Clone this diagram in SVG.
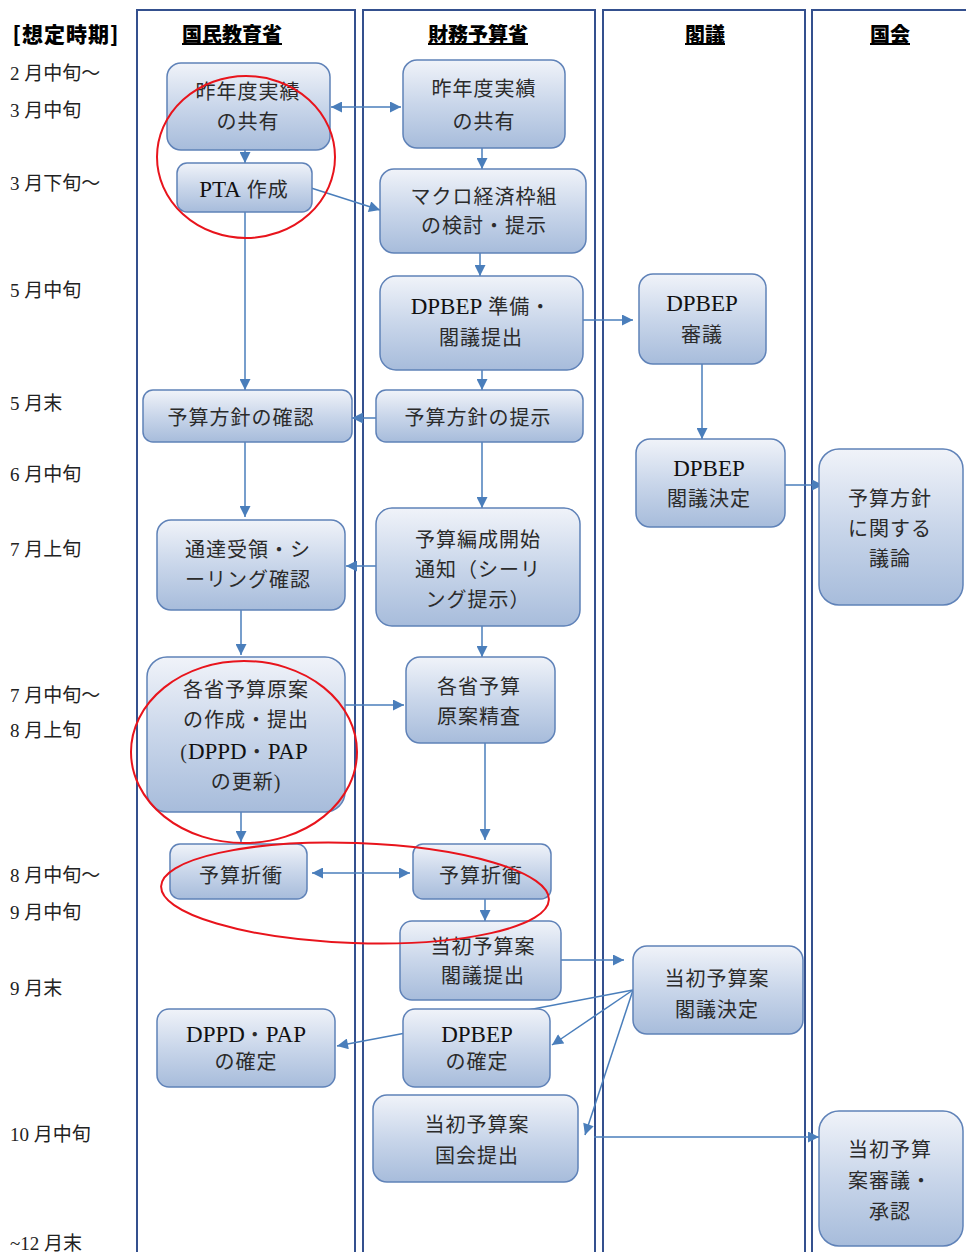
<svg xmlns="http://www.w3.org/2000/svg" width="966" height="1252" viewBox="0 0 966 1252">
<defs>
<linearGradient id="g" x1="0" y1="0" x2="0" y2="1">
<stop offset="0" stop-color="#f0f3f9"/>
<stop offset="0.5" stop-color="#c9d6ea"/>
<stop offset="1" stop-color="#a7bcdb"/>
</linearGradient>
<marker id="ah" viewBox="0 0 10 10" refX="10" refY="5" markerWidth="12" markerHeight="11" markerUnits="userSpaceOnUse" orient="auto-start-reverse">
<path d="M0,0 L10,5 L0,10 Z" fill="#4a7ebb"/>
</marker>
<style>
.lane{fill:none;stroke:#34508e;stroke-width:2}
.node rect{fill:url(#g);stroke:#5f82b8;stroke-width:1.5}
.node text{font-family:"Liberation Serif","Noto Sans CJK JP",serif;font-size:20px;fill:#2b2b2b;text-anchor:middle;letter-spacing:1px}
.node .lat{font-size:23px;fill:#111;letter-spacing:0}
.hd{font-family:"Noto Sans CJK JP",sans-serif;font-size:20px;font-weight:900;fill:#000;text-anchor:middle;text-decoration:underline}
.tm{font-family:"Liberation Serif","Noto Sans CJK JP",serif;font-size:19px;fill:#222}
.c{fill:none;stroke:#4a7ebb;stroke-width:1.5}
.red{fill:none;stroke:#e8141c;stroke-width:2}
</style>
</defs>
<rect width="966" height="1252" fill="#fff"/>
<g id="lanes">
<rect class="lane" x="137" y="10" width="218" height="1260"/>
<rect class="lane" x="363" y="10" width="232" height="1260"/>
<rect class="lane" x="603" y="10" width="202" height="1260"/>
<rect class="lane" x="812" y="10" width="170" height="1260"/>
</g>
<g id="headers">
<text class="hd" x="66" y="42" style="text-decoration:none;font-size:21px;letter-spacing:1px">[想定時期]</text>
<text class="hd" x="232" y="42">国民教育省</text>
<text class="hd" x="478" y="42">財務予算省</text>
<text class="hd" x="705" y="42">閣議</text>
<text class="hd" x="890" y="42">国会</text>
</g>
<g id="times">
<text class="tm" x="10" y="80">2 月中旬～</text>
<text class="tm" x="10" y="117">3 月中旬</text>
<text class="tm" x="10" y="190">3 月下旬～</text>
<text class="tm" x="10" y="297">5 月中旬</text>
<text class="tm" x="10" y="410">5 月末</text>
<text class="tm" x="10" y="481">6 月中旬</text>
<text class="tm" x="10" y="556">7 月上旬</text>
<text class="tm" x="10" y="702">7 月中旬～</text>
<text class="tm" x="10" y="737">8 月上旬</text>
<text class="tm" x="10" y="882">8 月中旬～</text>
<text class="tm" x="10" y="919">9 月中旬</text>
<text class="tm" x="10" y="995">9 月末</text>
<text class="tm" x="10" y="1141">10 月中旬</text>
<text class="tm" x="10" y="1250">~12 月末</text>
</g>
<g id="connectors">
<line class="c" x1="331" y1="107" x2="401" y2="107" marker-start="url(#ah)" marker-end="url(#ah)"/>
<line class="c" x1="245" y1="150" x2="245" y2="163" marker-end="url(#ah)"/>
<line class="c" x1="308" y1="187" x2="380" y2="210" marker-end="url(#ah)"/>
<line class="c" x1="482" y1="148" x2="482" y2="169" marker-end="url(#ah)"/>
<line class="c" x1="245" y1="212" x2="245" y2="390" marker-end="url(#ah)"/>
<line class="c" x1="480" y1="253" x2="480" y2="276" marker-end="url(#ah)"/>
<line class="c" x1="583" y1="320" x2="633" y2="320" marker-end="url(#ah)"/>
<line class="c" x1="482" y1="370" x2="482" y2="390" marker-end="url(#ah)"/>
<line class="c" x1="376" y1="418" x2="352" y2="418" marker-end="url(#ah)"/>
<line class="c" x1="702" y1="364" x2="702" y2="439" marker-end="url(#ah)"/>
<line class="c" x1="785" y1="485" x2="823" y2="485" marker-end="url(#ah)"/>
<line class="c" x1="245" y1="442" x2="245" y2="517" marker-end="url(#ah)"/>
<line class="c" x1="482" y1="442" x2="482" y2="508" marker-end="url(#ah)"/>
<line class="c" x1="376" y1="566" x2="346" y2="566" marker-end="url(#ah)"/>
<line class="c" x1="241" y1="610" x2="241" y2="655" marker-end="url(#ah)"/>
<line class="c" x1="482" y1="626" x2="482" y2="657" marker-end="url(#ah)"/>
<line class="c" x1="345" y1="705" x2="404" y2="705" marker-end="url(#ah)"/>
<line class="c" x1="241" y1="812" x2="241" y2="842" marker-end="url(#ah)"/>
<line class="c" x1="485" y1="743" x2="485" y2="840" marker-end="url(#ah)"/>
<line class="c" x1="312" y1="873" x2="410" y2="873" marker-start="url(#ah)" marker-end="url(#ah)"/>
<line class="c" x1="485" y1="899" x2="485" y2="921" marker-end="url(#ah)"/>
<line class="c" x1="561" y1="960" x2="624" y2="960" marker-end="url(#ah)"/>
<line class="c" x1="633" y1="990" x2="337" y2="1046" marker-end="url(#ah)"/>
<line class="c" x1="633" y1="990" x2="552" y2="1045" marker-end="url(#ah)"/>
<line class="c" x1="633" y1="990" x2="585" y2="1135" marker-end="url(#ah)"/>
<line class="c" x1="594" y1="1137" x2="819" y2="1137" marker-end="url(#ah)"/>
</g>
<g id="n1" class="node"><rect x="167" y="63" width="163" height="87" rx="14"/><text x="248" y="99">昨年度実績</text><text x="248" y="129">の共有</text></g>
<g id="n2" class="node"><rect x="403" y="60" width="162" height="88" rx="14"/><text x="484" y="96">昨年度実績</text><text x="484" y="129">の共有</text></g>
<g id="n3" class="node"><rect x="177" y="163" width="135" height="49" rx="10"/><text x="244" y="197"><tspan class="lat">PTA</tspan> 作成</text></g>
<g id="n4" class="node"><rect x="380" y="169" width="206" height="84" rx="14"/><text x="484" y="204">マクロ経済枠組</text><text x="484" y="233">の検討・提示</text></g>
<g id="n5" class="node"><rect x="380" y="276" width="203" height="94" rx="16"/><text x="481" y="314"><tspan class="lat">DPBEP</tspan> 準備・</text><text x="481" y="345">閣議提出</text></g>
<g id="n6" class="node"><rect x="639" y="274" width="127" height="90" rx="14"/><text x="702" y="311" class="lat">DPBEP</text><text x="702" y="342">審議</text></g>
<g id="n7" class="node"><rect x="143" y="390" width="209" height="52" rx="10"/><text x="241" y="425">予算方針の確認</text></g>
<g id="n8" class="node"><rect x="376" y="390" width="207" height="52" rx="10"/><text x="478" y="425">予算方針の提示</text></g>
<g id="n9" class="node"><rect x="636" y="439" width="149" height="88" rx="14"/><text x="709" y="476" class="lat">DPBEP</text><text x="709" y="506">閣議決定</text></g>
<g id="n10" class="node"><rect x="819" y="449" width="144" height="156" rx="20"/><text x="890" y="506">予算方針</text><text x="890" y="536">に関する</text><text x="890" y="566">議論</text></g>
<g id="n11" class="node"><rect x="157" y="520" width="188" height="90" rx="14"/><text x="248" y="557">通達受領・シ</text><text x="248" y="587">ーリング確認</text></g>
<g id="n12" class="node"><rect x="376" y="508" width="204" height="118" rx="16"/><text x="478" y="547">予算編成開始</text><text x="478" y="577">通知（シーリ</text><text x="478" y="607">ング提示）</text></g>
<g id="n13" class="node"><rect x="147" y="657" width="198" height="155" rx="20"/><text x="246" y="697">各省予算原案</text><text x="246" y="727">の作成・提出</text><text x="244" y="759">(<tspan class="lat">DPPD</tspan>・<tspan class="lat">PAP</tspan></text><text x="246" y="789">の更新)</text></g>
<g id="n14" class="node"><rect x="406" y="657" width="149" height="86" rx="14"/><text x="479" y="694">各省予算</text><text x="479" y="724">原案精査</text></g>
<g id="n15" class="node"><rect x="170" y="844" width="137" height="55" rx="10"/><text x="241" y="883">予算折衝</text></g>
<g id="n16" class="node"><rect x="413" y="844" width="138" height="55" rx="10"/><text x="481" y="883">予算折衝</text></g>
<g id="n17" class="node"><rect x="400" y="921" width="161" height="79" rx="12"/><text x="483" y="954">当初予算案</text><text x="483" y="983">閣議提出</text></g>
<g id="n18" class="node"><rect x="633" y="946" width="170" height="88" rx="14"/><text x="717" y="986">当初予算案</text><text x="717" y="1017">閣議決定</text></g>
<g id="n19" class="node"><rect x="157" y="1009" width="178" height="78" rx="12"/><text x="246" y="1042"><tspan class="lat">DPPD</tspan>・<tspan class="lat">PAP</tspan></text><text x="246" y="1069">の確定</text></g>
<g id="n20" class="node"><rect x="403" y="1009" width="147" height="78" rx="12"/><text x="477" y="1042" class="lat">DPBEP</text><text x="477" y="1069">の確定</text></g>
<g id="n21" class="node"><rect x="373" y="1095" width="205" height="87" rx="14"/><text x="477" y="1132">当初予算案</text><text x="477" y="1163">国会提出</text></g>
<g id="n22" class="node"><rect x="819" y="1111" width="144" height="135" rx="20"/><text x="890" y="1157">当初予算</text><text x="890" y="1188">案審議・</text><text x="890" y="1219">承認</text></g>
<g id="annotations">
<ellipse class="red" cx="246" cy="157" rx="89" ry="81"/>
<ellipse class="red" cx="244" cy="752" rx="113" ry="91"/>
<ellipse class="red" cx="355" cy="893" rx="194" ry="50" transform="rotate(2 355 893)"/>
</g>
</svg>
